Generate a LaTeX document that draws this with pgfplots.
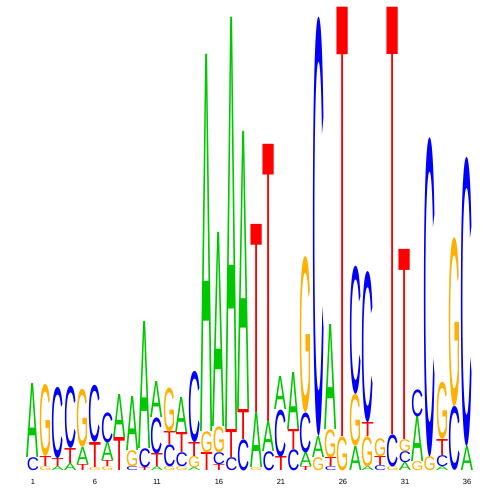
\documentclass[border=0pt]{standalone}
\usepackage{pgfplots}
\usepackage{pgfplotstable}
\usepackage{graphicx}
\usepackage{fontspec}
\pgfplotsset{compat=1.18}
\setmainfont{Liberation Sans}
\newfontfamily\logofont{Liberation Sans}

\definecolor{colA}{RGB}{0,200,0}
\definecolor{colC}{RGB}{0,0,255}
\definecolor{colG}{RGB}{255,176,0}
\definecolor{colT}{RGB}{255,0,0}

% position, bottom of letter, height of letter (pixel units), letter
\pgfplotstableread{
x y h L
1 0 13 C
1 13 74 A
2 0 4 G
2 4 10 T
2 14 72 G
3 0 4 A
3 4 8 T
3 12 71 C
4 0 7 A
4 7 15 T
4 22 62 C
5 0 6 T
5 6 17 A
5 23 58 G
6 0 3 G
6 3 25 T
6 28 57 C
7 0 4 G
7 4 6 T
7 10 18 A
7 28 30 C
8 0 33 T
8 33 43 A
9 0 4 C
9 4 16 G
9 20 54 A
10 0 3 T
10 3 19 C
10 22 127 A
11 0 4 A
11 4 13 T
11 17 36 C
11 53 36 A
12 0 4 G
12 4 22 C
12 26 13 T
12 39 44 G
13 0 4 G
13 4 14 C
13 18 20 T
13 38 35 A
14 0 3 A
14 3 11 G
14 14 14 T
14 28 71 C
15 0 18 T
15 18 21 G
15 39 377 A
16 0 6 T
16 6 12 C
16 18 26 G
16 44 194 A
17 0 13 C
17 13 28 T
17 41 412 A
18 0 31 C
18 31 30 T
18 61 278 A
19 0 3 G
19 3 55 A
19 58 188 T
20 0 19 C
20 19 30 A
20 49 277 T
21 0 14 T
21 14 47 C
21 61 33 A
22 0 21 C
22 21 20 T
22 41 57 A
23 0 4 T
23 4 14 A
23 18 40 C
23 58 156 G
24 0 13 G
24 13 21 A
24 34 419 C
25 0 4 C
25 4 9 T
25 13 28 G
25 41 105 A
26 0 34 G
26 34 429 T
27 0 24 A
27 24 52 G
27 76 128 C
28 0 4 A
28 4 30 G
28 34 14 T
28 48 151 C
29 0 5 C
29 5 9 T
29 14 18 G
30 0 4 G
30 4 32 C
30 36 427 T
31 0 8 A
31 8 11 C
31 19 12 G
31 31 190 T
32 0 9 G
32 9 45 A
32 54 27 C
33 0 14 G
33 14 319 C
34 0 4 A
34 4 11 C
34 15 16 T
34 31 57 G
35 0 64 C
35 64 169 G
36 0 24 A
36 24 289 C
}\logodata

\begin{document}
\begin{tikzpicture}
\begin{axis}[
    x=7.44pt, y=0.6pt,
    xmin=-1.661, xmax=38.66,
    ymin=-29, ymax=471,
    clip=false,
    axis line style={draw=none},
    tick style={draw=none},
    ytick=\empty,
    xtick={1,6,...,36},
    xtick pos=bottom,
    /pgf/number format/assume math mode=true,
    xticklabel style={anchor=center, yshift=10.8pt, font=\fontsize{4.5}{5}\selectfont},
]
\addplot[scatter, only marks, draw=none, mark=*, mark size=0pt,
    point meta=explicit symbolic,
    visualization depends on={\thisrow{h}\as\hgt},
    scatter/@pre marker code/.code={%
        \edef\letter{\pgfplotspointmeta}%
        \pgfmathsetmacro\hpt{\hgt*0.6}%
        \node[anchor=south, inner sep=0pt, text=col\letter] at (0pt,0pt)
            {\resizebox*{7.3pt}{\hpt pt}{\logofont\letter}};%
    },
    scatter/@post marker code/.code={},
] table[x=x, y=y, meta=L] {\logodata};
\end{axis}
\end{tikzpicture}
\end{document}
